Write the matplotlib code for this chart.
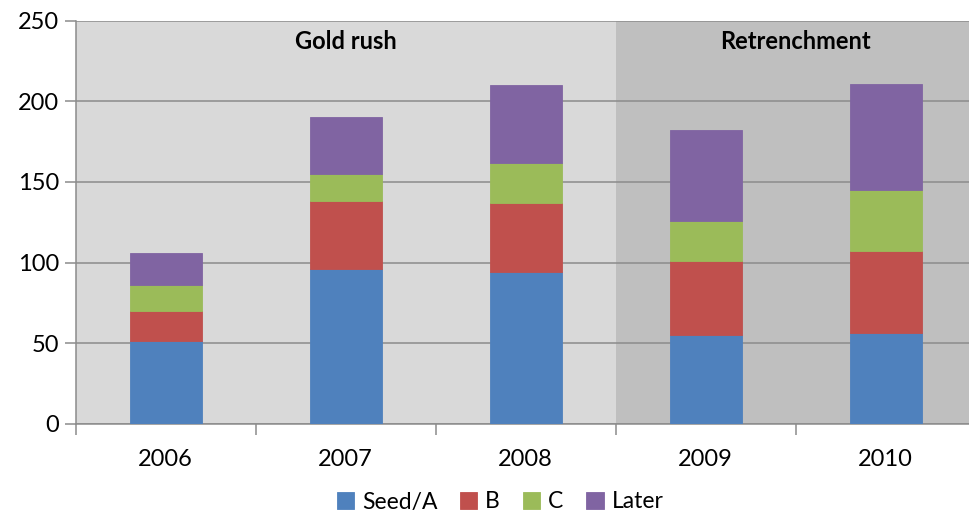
import matplotlib
matplotlib.use("Agg")
import matplotlib.pyplot as plt
import numpy as np

# Deals by stage and year
years = ["2006", "2007", "2008", "2009", "2010"]
seed_a = [51, 96, 94, 55, 56]
stage_b = [19, 42, 43, 46, 51]
stage_c = [16, 17, 25, 25, 38]
later = [20, 35, 48, 56, 66]

series_names = ["Seed/A", "B", "C", "Later"]
series_colors = ["#4F81BD", "#C0504D", "#9BBB59", "#8064A2"]

plt.rcParams["font.family"] = ["Lato", "DejaVu Sans"]

fig = plt.figure(figsize=(9.69, 5.14), dpi=100)
ax = fig.add_axes([75.7 / 969, 1 - 423.7 / 514, 900 / 969, 403 / 514])

x = np.arange(len(years))

# two shaded eras
ax.axvspan(-0.5, 2.5, color="#D9D9D9", zorder=0, lw=0)
ax.axvspan(2.5, 4.5, color="#BFBFBF", zorder=0, lw=0)
ax.text(1, 237, "Gold rush", ha="center", va="center",
        fontsize=17, fontweight="bold", color="black")
ax.text(3.5, 237, "Retrenchment", ha="center", va="center",
        fontsize=17, fontweight="bold", color="black")

bottom = np.zeros(len(years))
for vals, name, col in zip([seed_a, stage_b, stage_c, later],
                           series_names, series_colors):
    ax.bar(x, vals, width=0.4, bottom=bottom, color=col, label=name,
           edgecolor=col, linewidth=0.6, zorder=3)
    bottom += np.array(vals)

ax.set_xlim(-0.5, 4.5)
ax.set_ylim(0, 250)
ax.set_yticks(np.arange(0, 251, 50))
ax.yaxis.grid(True, color="#8C8C8C", linewidth=1.1, zorder=1)
ax.set_axisbelow(True)

ax.set_xticks(x)
ax.set_xticklabels(years, fontsize=17)
ax.set_xticks(np.arange(-0.5, 4.6, 1), minor=True)
ax.tick_params(axis="x", which="major", length=0, pad=18)
ax.tick_params(axis="x", which="minor", length=8, width=1.1,
               color="#8C8C8C", direction="out")
ax.tick_params(axis="y", length=8, width=1.1, color="#8C8C8C",
               labelsize=17, pad=4)

for side in ["top", "right"]:
    ax.spines[side].set_visible(False)
for side in ["left", "bottom"]:
    ax.spines[side].set_color("#8C8C8C")
    ax.spines[side].set_linewidth(1.1)

fig.legend(loc="center", bbox_to_anchor=(500 / 969, 1 - 502 / 514),
           ncol=4, frameon=False, fontsize=16.5, handlelength=0.75,
           handleheight=0.75, handletextpad=0.35, columnspacing=1.0,
           borderpad=0)

fig.savefig("out.png", dpi=100)
